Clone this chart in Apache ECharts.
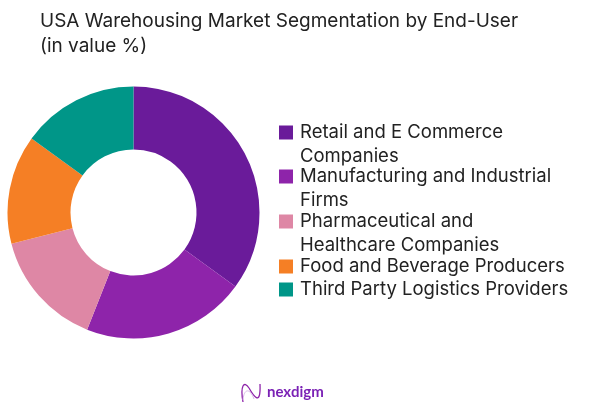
<!DOCTYPE html>
<html>
<head>
    <meta charset="UTF-8">
    <title>USA Warehousing Market Segmentation</title>
    <script src="https://cdn.jsdelivr.net/npm/echarts@6/dist/echarts.min.js"></script>
    <style>
        html, body { margin: 0; padding: 0; background: #fff; }
        #container { width: 589px; height: 411px; }
    </style>
</head>
<body>
<div id="container"></div>
<script>
    var titleLines = ['USA Warehousing Market Segmentation by End-User', '(in value %)'];
    var categories = [
        'Retail and E Commerce Companies',
        'Manufacturing and Industrial Firms',
        'Pharmaceutical and Healthcare Companies',
        'Food and Beverage Producers',
        'Third Party Logistics Providers'
    ];
    // how the legend text wraps
    var firstLines = ['Retail and E Commerce', 'Manufacturing and Industrial', 'Pharmaceutical and', 'Food and Beverage Producers', 'Third Party Logistics Providers'];
    var secondLines = ['Companies', 'Firms', 'Healthcare Companies', '', ''];
    var values = [35, 21, 15, 14, 15];
    var colors = ['#6A1B9A', '#8E24AA', '#DE87A5', '#F57F25', '#009688'];

    var fontName = 'Inter';
    var textColor = '#222';
    var legendTops = [123, 167, 212, 257, 280];

    var myChart = echarts.init(document.getElementById('container'));

    var legends = categories.map(function (name, i) {
        return {
            left: 279,
            top: legendTops[i],
            data: [name],
            icon: 'rect',
            itemWidth: 14,
            itemHeight: 14,
            itemGap: 0,
            padding: 0,
            selectedMode: false,
            formatter: function () { return firstLines[i]; },
            textStyle: { fontFamily: fontName, fontSize: 18.5, color: textColor, padding: [0, 0, 0, 2] }
        };
    });

    var graphics = titleLines.map(function (line, i) {
        return {
            type: 'text', left: 40, top: 12 + i * 25,
            style: { text: line, fontFamily: fontName, fontSize: 19, fill: textColor }
        };
    });
    secondLines.forEach(function (line, i) {
        if (!line) return;
        graphics.push({
            type: 'text', left: 300, top: legendTops[i] + 24,
            style: { text: line, fontFamily: fontName, fontSize: 18.5, fill: textColor }
        });
    });
    // logo
    graphics.push({
        type: 'bezierCurve',
        shape: { x1: 243, y1: 402, cpx1: 240, cpy1: 386, cpx2: 244, cpy2: 380, x2: 249, y2: 388 },
        style: { fill: 'none', stroke: '#8E24AA', lineWidth: 1.3 }
    });
    graphics.push({
        type: 'bezierCurve',
        shape: { x1: 249, y1: 388, cpx1: 253, cpy1: 395, cpx2: 261, cpy2: 408, x2: 260, y2: 384 },
        style: { fill: 'none', stroke: '#8E24AA', lineWidth: 1.3 }
    });
    graphics.push({
        type: 'bezierCurve',
        shape: { x1: 243, y1: 400, cpx1: 244, cpy1: 388, cpx2: 250, cpy2: 388, x2: 254, y2: 399 },
        style: { fill: 'none', stroke: '#D9B8E8', lineWidth: 1 }
    });
    graphics.push({
        type: 'text', left: 267, top: 385,
        style: { text: 'nexdigm', fontFamily: 'Lato', fontWeight: 'bold', fontSize: 15, fill: '#7B22B5' }
    });

    myChart.setOption({
        animation: false,
        color: colors,
        legend: legends,
        graphic: graphics,
        series: [{
            type: 'pie',
            center: [133.5, 212.5],
            radius: [63, 126],
            startAngle: 90,
            clockwise: true,
            label: { show: false },
            labelLine: { show: false },
            itemStyle: { borderWidth: 0 },
            data: categories.map(function (name, i) {
                return { name: name, value: values[i] };
            })
        }]
    });
</script>
</body>
</html>
